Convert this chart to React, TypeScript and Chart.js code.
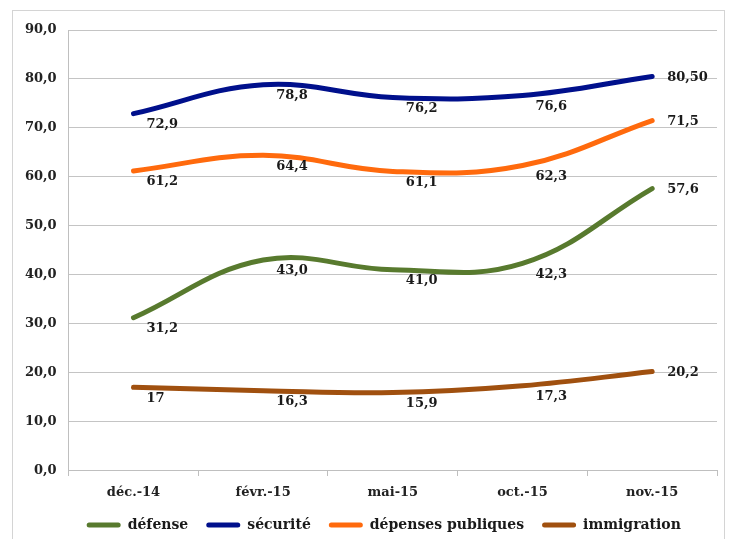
import React, { useEffect, useRef } from "react";
import { Chart, registerables } from "chart.js";

Chart.register(...registerables);

const categories = ["déc.-14", "févr.-15", "mai-15", "oct.-15", "nov.-15"];
const seriesNames = ["défense", "sécurité", "dépenses publiques", "immigration"];
const defense = [31.2, 43.0, 41.0, 42.3, 57.6];
const securite = [72.9, 78.8, 76.2, 76.6, 80.5];
const depenses = [61.2, 64.4, 61.1, 62.3, 71.5];
const immigration = [17, 16.3, 15.9, 17.3, 20.2];
const defenseLabels = ["31,2", "43,0", "41,0", "42,3", "57,6"];
const securiteLabels = ["72,9", "78,8", "76,2", "76,6", "80,50"];
const depensesLabels = ["61,2", "64,4", "61,1", "62,3", "71,5"];
const immigrationLabels = ["17", "16,3", "15,9", "17,3", "20,2"];
const yTicks = [0, 10, 20, 30, 40, 50, 60, 70, 80, 90];

const colors = ["#587a2e", "#00108c", "#ff6a0d", "#a0500f"];
const seriesValues = [defense, securite, depenses, immigration];
const seriesLabels = [defenseLabels, securiteLabels, depensesLabels, immigrationLabels];

const SERIF = "'DejaVu Serif', serif";

const frameBox = {
  id: "frameBox",
  beforeDraw(chart: any) {
    const ctx = chart.ctx;
    ctx.save();
    ctx.strokeStyle = "#d4d4d4";
    ctx.lineWidth = 1;
    ctx.strokeRect(12.5, 10.5, 712, 540);
    ctx.restore();
  },
};

const valueLabels = {
  id: "valueLabels",
  afterDatasetsDraw(chart: any) {
    const ctx = chart.ctx;
    ctx.save();
    ctx.font = `bold 13px ${SERIF}`;
    ctx.fillStyle = "#1a1a1a";
    ctx.textAlign = "left";
    ctx.textBaseline = "middle";
    chart.data.datasets.forEach((ds: any, di: number) => {
      const meta = chart.getDatasetMeta(di);
      meta.data.forEach((pt: any, i: number) => {
        const last = i === meta.data.length - 1;
        const dx = last ? 15 : 13;
        const dy = last ? 1 : 11;
        ctx.fillText(seriesLabels[di][i], pt.x + dx, pt.y + dy);
      });
    });
    ctx.restore();
  },
};

export default function App() {
  const ref = useRef<HTMLCanvasElement>(null);
  useEffect(() => {
    if (!ref.current) return;
    const chart = new Chart(ref.current, {
      type: "line",
      data: {
        labels: categories,
        datasets: seriesNames.map((name, i) => ({
          label: name,
          data: seriesValues[i],
          borderColor: colors[i],
          backgroundColor: colors[i],
          borderWidth: 5,
          pointRadius: 0,
          pointHoverRadius: 0,
          tension: 0.4,
          fill: false,
          borderCapStyle: "round" as const,
        })),
      },
      options: {
        animation: false,
        responsive: false,
        layout: { padding: { left: 13, right: 17, top: 30, bottom: 0 } },
        plugins: {
          tooltip: { enabled: false },
          legend: {
            position: "bottom",
            align: "start",
            fullSize: false,
            labels: {
              font: { family: SERIF, size: 14, weight: "bold" },
              color: "#1a1a1a",
              boxWidth: 34,
              boxHeight: 5,
              padding: 18,
              generateLabels: (chart: any) =>
                chart.data.datasets.map((ds: any, i: number) => ({
                  text: ds.label,
                  fillStyle: colors[i],
                  strokeStyle: colors[i],
                  lineWidth: 0,
                  borderRadius: 2.5,
                  datasetIndex: i,
                  hidden: false,
                  fontColor: "#1a1a1a",
                })),
            },
          },
        },
        scales: {
          x: {
            offset: true,
            grid: {
              offset: true,
              drawOnChartArea: false,
              drawTicks: true,
              tickLength: 14,
              tickBorderDash: [5, 40],
              tickColor: "#bfbfbf",
              color: "#bfbfbf",
            },
            border: { color: "#bfbfbf" },
            ticks: {
              font: { family: SERIF, size: 13, weight: "bold" },
              color: "#222",
              padding: 0,
              maxRotation: 0,
            },
          },
          y: {
            min: 0,
            max: 90,
            afterBuildTicks: (axis: any) => {
              axis.ticks = yTicks.map((v) => ({ value: v }));
            },
            grid: { color: "#c4c4c4", drawTicks: false },
            border: { color: "#bfbfbf" },
            ticks: {
              font: { family: SERIF, size: 13, weight: "bold" },
              color: "#222",
              padding: 12,
              callback: (v: any) => Number(v).toFixed(1).replace(".", ","),
            },
          },
        },
      },
      plugins: [frameBox, valueLabels],
    });
    return () => chart.destroy();
  }, []);
  return (
    <div style={{ position: "fixed", left: 0, top: 0, width: 734, height: 539, overflow: "hidden", background: "#fff" }}>
      <canvas ref={ref} width={734} height={542} style={{ display: "block" }} />
    </div>
  );
}
